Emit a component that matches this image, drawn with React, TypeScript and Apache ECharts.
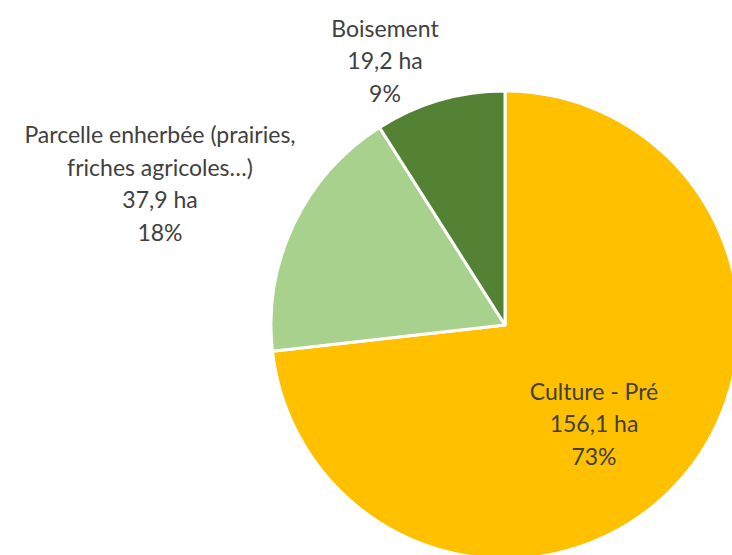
import React, { useEffect, useRef } from "react";
import * as echarts from "echarts";

const categories = ["Culture - Pré", "Parcelle enherbée (prairies,\nfriches agricoles…)", "Boisement"];
const values = [156.1, 37.9, 19.2];
const colors = ["#FFC000", "#A9D18E", "#548235"];
const labelPos = [
  [594, 423],
  [160, 183],
  [385, 60],
];

export default function App() {
  const ref = useRef<HTMLDivElement>(null);
  useEffect(() => {
    if (!ref.current) return;
    const chart = echarts.init(ref.current, undefined, { renderer: "svg" });
    chart.setOption({
      animation: false,
      backgroundColor: "#ffffff",
      series: [
        {
          type: "pie",
          center: [505, 325],
          radius: 234,
          startAngle: 90,
          clockwise: true,
          avoidLabelOverlap: false,
          data: categories.map((c, i) => ({
            name: c,
            value: values[i],
            itemStyle: { color: colors[i] },
          })),
          itemStyle: { borderColor: "#ffffff", borderWidth: 3 },
          label: {
            show: true,
            position: "inside",
            color: "#404040",
            fontFamily: "Lato",
            fontSize: 23,
            lineHeight: 32.5,
            align: "center",
            formatter: (p: any) =>
              `${p.name}\n${String(p.value).replace(".", ",")} ha\n${Math.round(p.percent)}%`,
          },
          labelLine: { show: false },
          labelLayout: (params: any) => {
            const pos = labelPos[params.dataIndex];
            return { x: pos[0], y: pos[1], align: "center", verticalAlign: "middle" };
          },
          emphasis: { disabled: true },
        },
      ],
    });
    return () => chart.dispose();
  }, []);
  return (
    <div
      ref={ref}
      style={{ position: "fixed", left: 0, top: 0, width: 732, height: 555 }}
    />
  );
}
